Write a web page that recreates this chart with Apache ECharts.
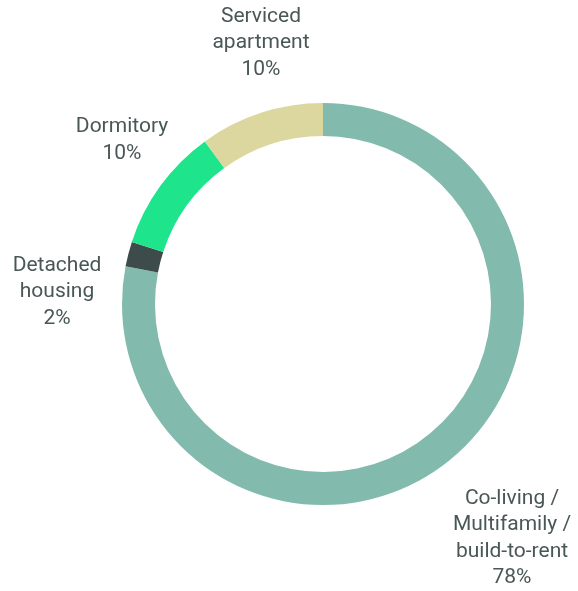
<!DOCTYPE html>
<html>
<head>
<meta charset="utf-8">
<script src="https://cdn.jsdelivr.net/npm/echarts@6/dist/echarts.min.js"></script>
<style>
  html, body { margin: 0; padding: 0; background: #fff; }
  #chart { width: 578px; height: 591px; }
</style>
</head>
<body>
<div id="chart"></div>
<script>
  // data
  var categories = ["Co-living /\nMultifamily /\nbuild-to-rent", "Detached\nhousing", "Dormitory", "Serviced\napartment"];
  var shares = [78, 2, 10, 10];
  var colors = ["#82bbad", "#3e4b4b", "#1ee58c", "#dcd79e"];

  // where each label sits (centre of the text block)
  var labelPos = [[512, 538], [57, 292], [122, 140], [261, 43]];

  var myChart = echarts.init(document.getElementById("chart"));
  var option = {
    animation: false,
    color: colors,
    series: [
      {
        type: "pie",
        center: [323, 304],
        radius: [168, 201],
        startAngle: 90,
        clockwise: true,
        avoidLabelOverlap: false,
        itemStyle: { borderWidth: 0 },
        label: {
          show: true,
          position: "outside",
          formatter: function (p) { return p.name + "\n" + p.value + "%"; },
          color: "#4a5757",
          fontFamily: "Roboto",
          fontSize: 21,
          lineHeight: 26.5,
          align: "center"
        },
        labelLine: { show: false },
        labelLayout: function (params) {
          var pos = labelPos[params.dataIndex];
          return {
            x: pos[0],
            y: pos[1],
            align: "center",
            verticalAlign: "middle"
          };
        },
        data: categories.map(function (c, i) {
          return { name: c, value: shares[i] };
        })
      }
    ]
  };
  myChart.setOption(option);
</script>
</body>
</html>
